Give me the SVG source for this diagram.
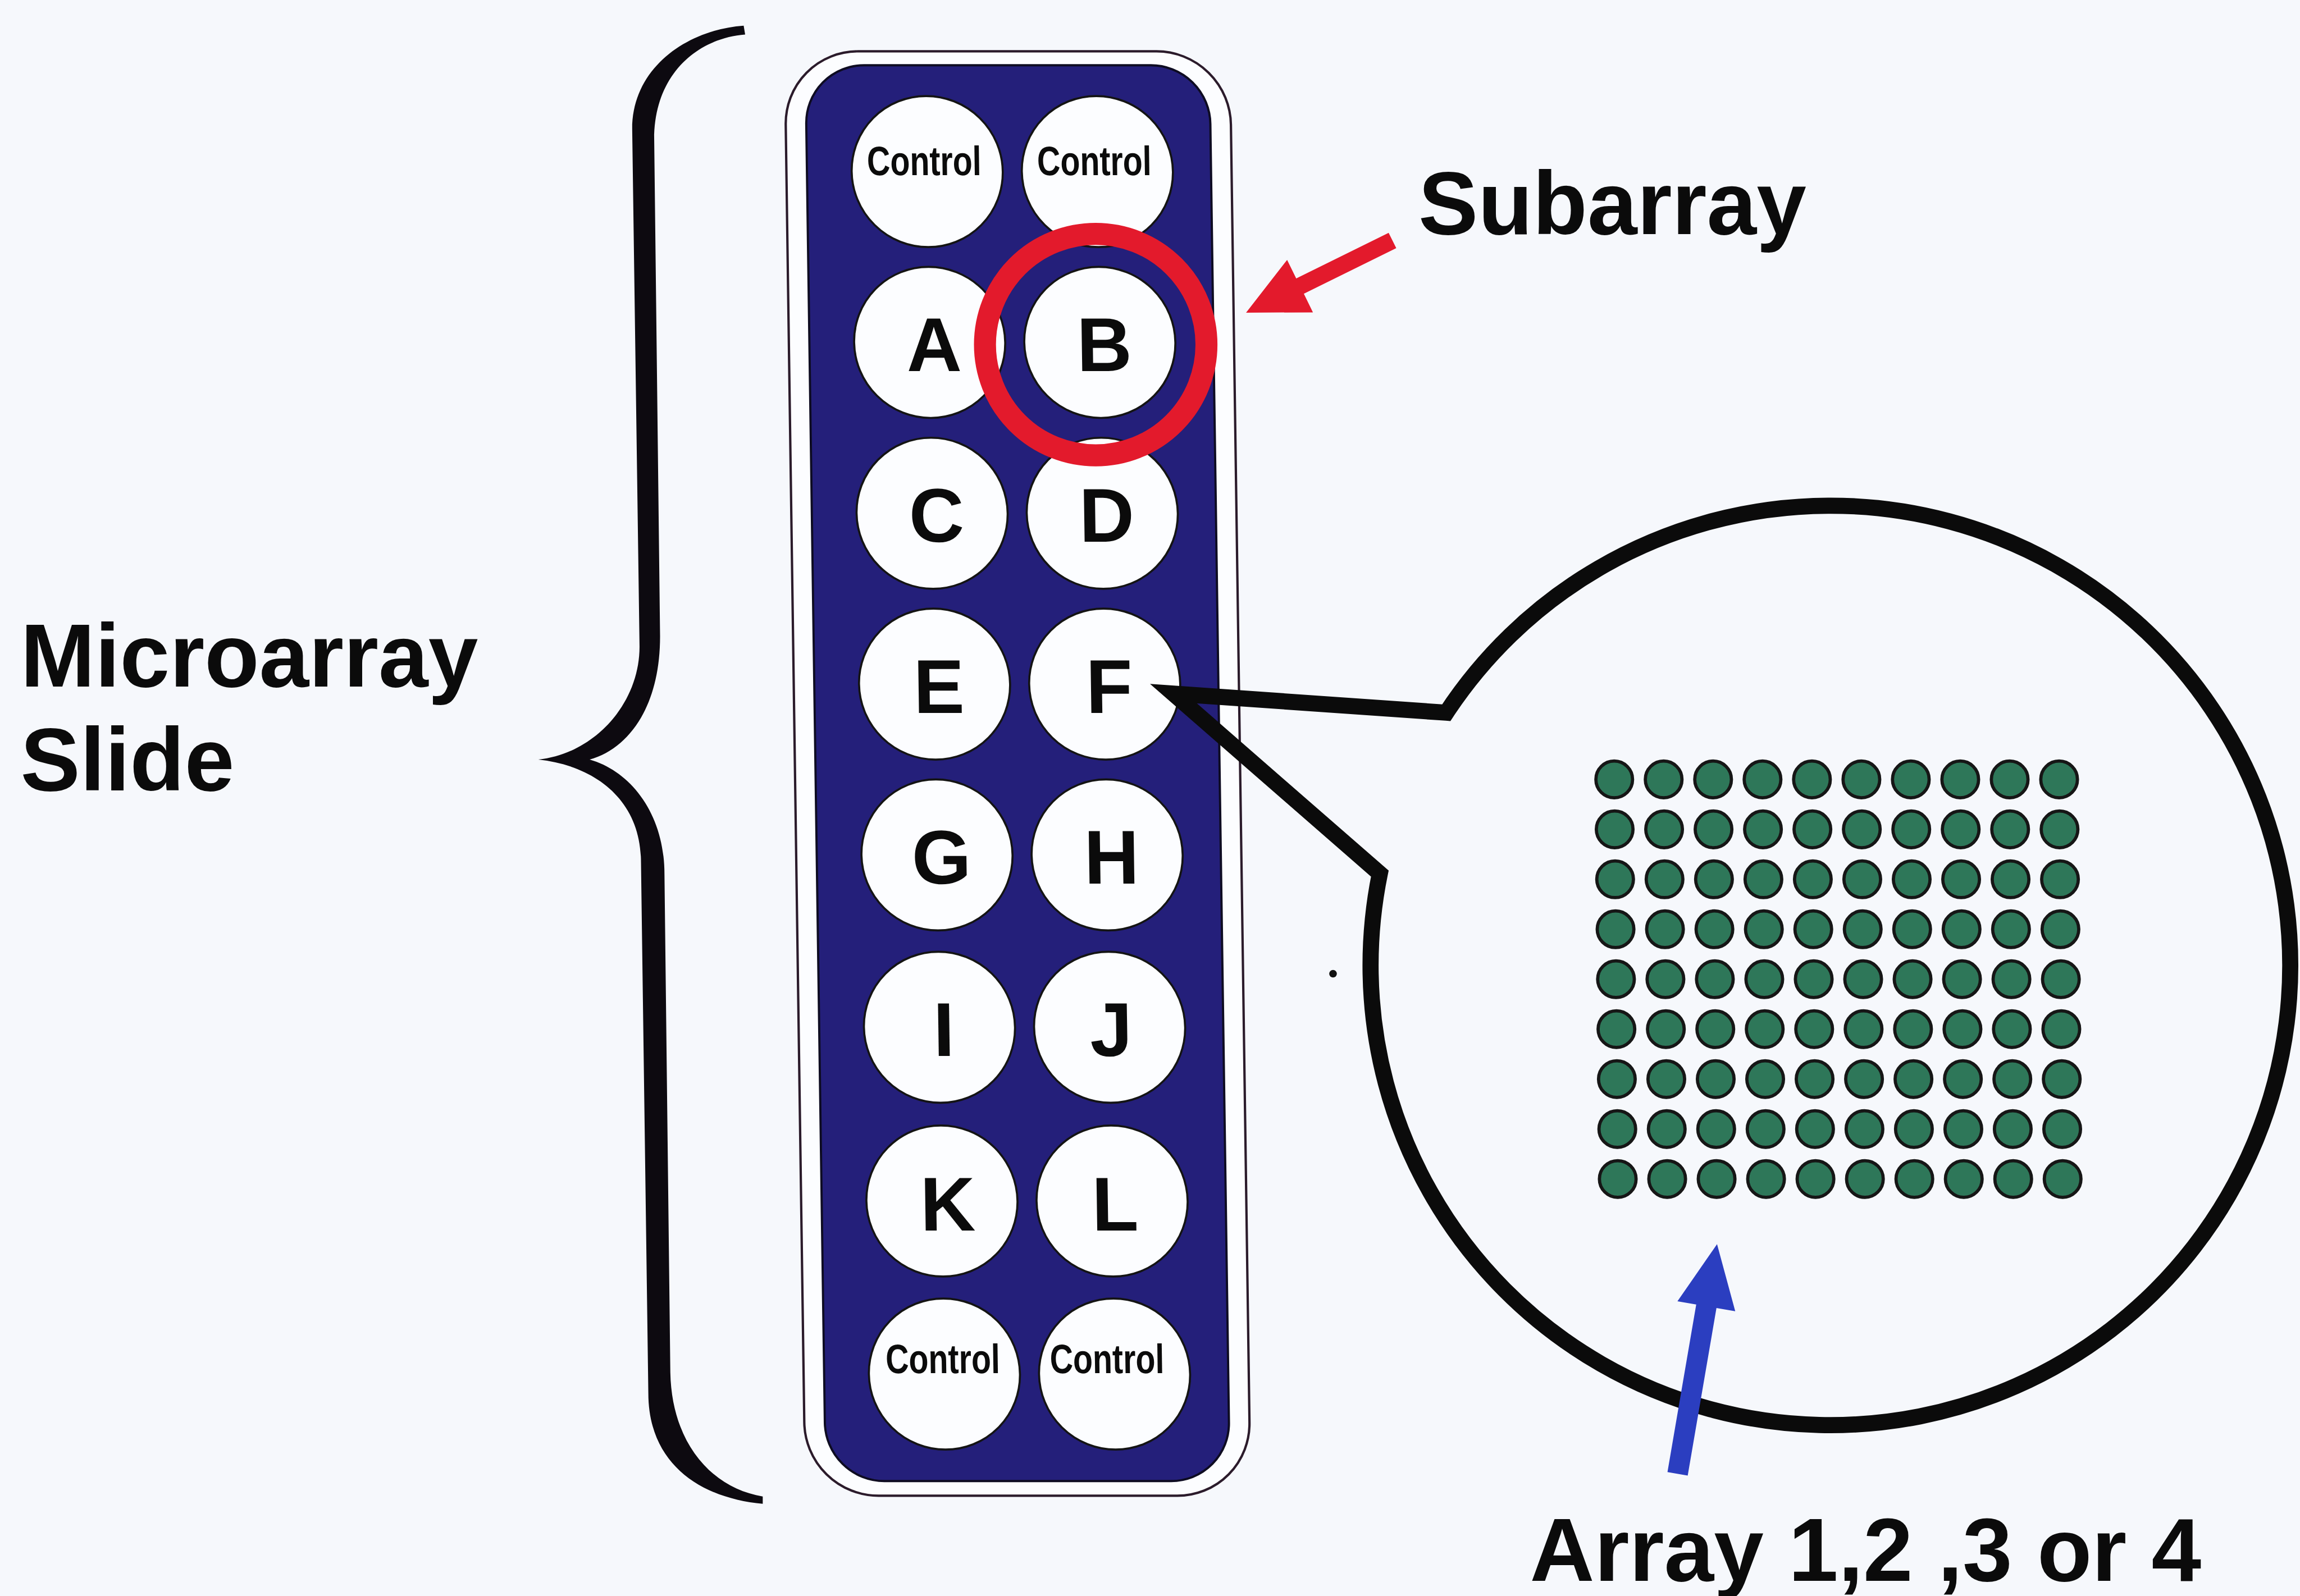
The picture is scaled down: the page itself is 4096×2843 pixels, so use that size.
<svg xmlns="http://www.w3.org/2000/svg" width="4096" height="2843" viewBox="0 0 4096 2843">
  <defs>
    <style>
      .lbl{font-family:"Liberation Sans",Arial,Helvetica,sans-serif;font-weight:bold;fill:#0b0b0b}
      .big{font-size:61px}
      .wl{font-size:52px;text-anchor:middle}
      .ctl{font-size:28px;text-anchor:middle}
      .well{fill:#fcfdff;stroke:#141414;stroke-width:1.4}
      .dot{fill:#2e7759;stroke:#161616;stroke-width:2.2}
      .ink{fill:none;stroke:#0b0b0b;stroke-width:11;stroke-linejoin:miter;stroke-miterlimit:6}
    </style>
    <circle id="spot" class="dot" r="12.5"/>
    <g id="spotrow">
      <use href="#spot" x="0"/><use href="#spot" x="33.7"/><use href="#spot" x="67.4"/>
      <use href="#spot" x="101.1"/><use href="#spot" x="134.8"/><use href="#spot" x="168.5"/>
      <use href="#spot" x="202.2"/><use href="#spot" x="235.9"/><use href="#spot" x="269.6"/>
      <use href="#spot" x="303.3"/>
    </g>
  </defs>

  <rect width="4096" height="2843" fill="#f6f8fc"/>

  <g transform="scale(2.6122)">
    <!-- curly brace grouping the slide -->
    <g id="brace">
      <path fill="#0d0a10" d="M367,518 C405,514 436,480 436,441 L431,88 C431,45 470,20 507,17.5 L508,23.5 C476,26 446,50 446,95 L450,434 C450,480 430,510 402,518 C430,526 453,555 453,596 L457,936 C458,985 486,1015 520,1020.5 L520,1025.5 C480,1022 442,1000 442,950 L437,588 C437,545 405,522 367,518 Z"/>
    </g>

    <!-- slide label -->
    <g id="label-slide" class="lbl big">
      <text x="14" y="468">Microarray</text>
      <text x="14" y="539">Slide</text>
    </g>

    <!-- the slide with its 16 subarray wells (slightly skewed like the print) -->
    <g id="slide" transform="matrix(1 0 0.0143 1 -7.54 0)">
      <rect x="542" y="35" width="303.5" height="985" rx="50" fill="#fcfdff" stroke="#2b1b2b" stroke-width="1.6"/>
      <rect x="556" y="44.5" width="275.5" height="965.5" rx="40" fill="#241f7a" stroke="#0e0c22" stroke-width="1.5"/>

      <g id="well-control-1"><circle class="well" cx="638" cy="117" r="51.5"/><text class="lbl ctl" x="636" y="119.5" textLength="78" lengthAdjust="spacingAndGlyphs">Control</text></g>
      <g id="well-control-2"><circle class="well" cx="754" cy="117" r="51.5"/><text class="lbl ctl" x="752" y="119.5" textLength="78" lengthAdjust="spacingAndGlyphs">Control</text></g>
      <g id="well-A"><circle class="well" cx="638" cy="233.5" r="51.5"/><text class="lbl wl" x="641" y="253">A</text></g>
      <g id="well-B"><circle class="well" cx="754" cy="233.5" r="51.5"/><text class="lbl wl" x="757" y="253">B</text></g>
      <g id="well-C"><circle class="well" cx="638" cy="350" r="51.5"/><text class="lbl wl" x="641" y="369.5">C</text></g>
      <g id="well-D"><circle class="well" cx="754" cy="350" r="51.5"/><text class="lbl wl" x="757" y="369.5">D</text></g>
      <g id="well-E"><circle class="well" cx="638" cy="466.5" r="51.5"/><text class="lbl wl" x="641" y="486">E</text></g>
      <g id="well-F"><circle class="well" cx="754" cy="466.5" r="51.5"/><text class="lbl wl" x="757" y="486">F</text></g>
      <g id="well-G"><circle class="well" cx="638" cy="583" r="51.5"/><text class="lbl wl" x="641" y="602.5">G</text></g>
      <g id="well-H"><circle class="well" cx="754" cy="583" r="51.5"/><text class="lbl wl" x="757" y="602.5">H</text></g>
      <g id="well-I"><circle class="well" cx="638" cy="700.5" r="51.5"/><text class="lbl wl" x="641" y="720">I</text></g>
      <g id="well-J"><circle class="well" cx="754" cy="700.5" r="51.5"/><text class="lbl wl" x="755" y="720">J</text></g>
      <g id="well-K"><circle class="well" cx="638" cy="819" r="51.5"/><text class="lbl wl" x="642" y="839">K</text></g>
      <g id="well-L"><circle class="well" cx="754" cy="819" r="51.5"/><text class="lbl wl" x="756" y="839">L</text></g>
      <g id="well-control-3"><circle class="well" cx="638" cy="937" r="51.5"/><text class="lbl ctl" x="637" y="936.5" textLength="78" lengthAdjust="spacingAndGlyphs">Control</text></g>
      <g id="well-control-4"><circle class="well" cx="754" cy="937" r="51.5"/><text class="lbl ctl" x="749" y="936.5" textLength="78" lengthAdjust="spacingAndGlyphs">Control</text></g>
    </g>

    <!-- highlight ring round subarray B -->
    <g id="subarray-ring">
      <circle cx="747" cy="235" r="75.5" fill="none" stroke="#e31a2c" stroke-width="15"/>
    </g>

    <g id="label-subarray" class="lbl big">
      <text x="967" y="159.5">Subarray</text>
    </g>

    <!-- magnified view of one subarray: callout bubble with the spot grid -->
    <g id="magnifier">
      <path class="ink" d="M986,486 L800,473 L940.7,595.7 A313.5,313.5 0 1 0 986,486 Z"/>
      <circle cx="908.8" cy="664" r="2.6" fill="#111"/>
      <g id="spot-grid">
        <use href="#spotrow" transform="translate(1100.5,531.5)"/>
        <use href="#spotrow" transform="translate(1100.8,565.56)"/>
        <use href="#spotrow" transform="translate(1101.1,599.62)"/>
        <use href="#spotrow" transform="translate(1101.4,633.68)"/>
        <use href="#spotrow" transform="translate(1101.7,667.74)"/>
        <use href="#spotrow" transform="translate(1102.0,701.8)"/>
        <use href="#spotrow" transform="translate(1102.3,735.86)"/>
        <use href="#spotrow" transform="translate(1102.6,769.92)"/>
        <use href="#spotrow" transform="translate(1102.9,803.98)"/>
      </g>
    </g>

    <g id="label-array" class="lbl big">
      <text x="1043" y="1078">Array 1,2 ,3 or 4</text>
    </g>

    <!-- pointer arrows -->
    <g id="connectors">
      <polygon id="arrow-subarray" fill="#e31a2c" points="849.5,213.2 895.1,213.0 888.9,200.3 951.9,169.2 946.7,158.8 883.7,189.9 877.5,177.2"/>
      <polygon id="arrow-array" fill="#2b3ec0" points="1170.6,848.4 1183,894.2 1170.2,892 1150.6,1006.2 1136.8,1003.8 1156.4,889.6 1143.6,887.4"/>
    </g>
  </g>
</svg>
